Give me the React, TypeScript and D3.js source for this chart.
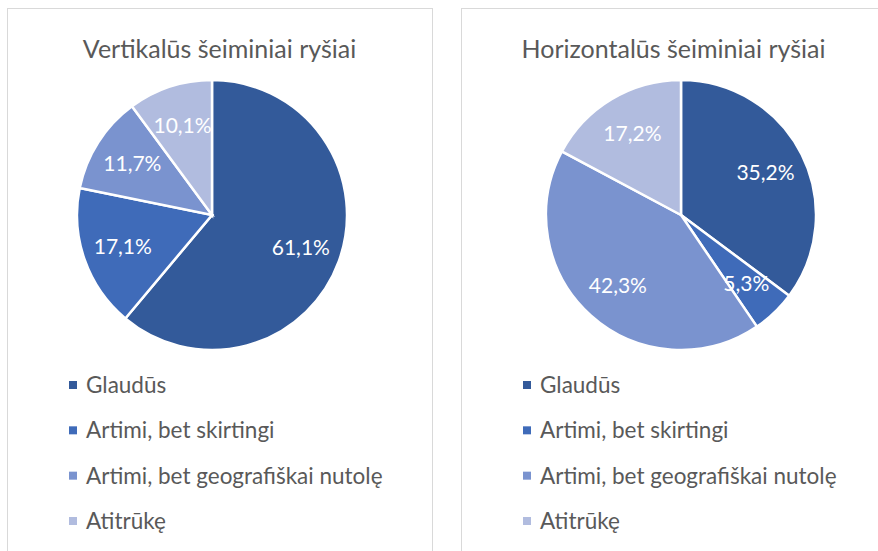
import React, { useEffect, useRef } from "react";
import * as d3 from "d3";

// categories shared by both pies
const categories = [
  "Glaudūs",
  "Artimi, bet skirtingi",
  "Artimi, bet geografiškai nutolę",
  "Atitrūkę",
];
const colors = ["#335a9a", "#3f6bb9", "#7a93cf", "#b1bcdf"];

const titles = ["Vertikalūs šeiminiai ryšiai", "Horizontalūs šeiminiai ryšiai"];
const verticalValues = [61.1, 17.1, 11.7, 10.1];
const horizontalValues = [35.2, 5.3, 42.3, 17.2];

const fmt = (v: number) => v.toFixed(1).replace(".", ",") + "%";

export default function App() {
  const svgRef = useRef<SVGSVGElement>(null);

  useEffect(() => {
    const svg = d3.select(svgRef.current);
    svg.selectAll("*").remove();

    const width = 878;
    const height = 551;
    svg.attr("width", width).attr("height", height);

    const font = "Lato, 'Open Sans', sans-serif";
    const panelW = 425;
    //panel frames and pie centres
    const panels = [
      { x: 7, cx: 205, title: titles[0], values: verticalValues },
      { x: 461, cx: 220, title: titles[1], values: horizontalValues },
    ];

    const radius = 135;
    const pie = d3.pie<number>().sort(null).value((d) => d);
    const arc = d3.arc<d3.PieArcDatum<number>>().innerRadius(0).outerRadius(radius);
    const labelArc = d3
      .arc<d3.PieArcDatum<number>>()
      .innerRadius(radius * 0.7)
      .outerRadius(radius * 0.7);

    // legend row positions
    const legendY = d3
      .scalePoint<string>()
      .domain(categories)
      .range([385, 521]);

    panels.forEach((p) => {
      const g = svg.append("g").attr("transform", `translate(${p.x},0)`);

      // chart frame
      g.append("rect")
        .attr("x", 0.5)
        .attr("y", 8.5)
        .attr("width", panelW)
        .attr("height", height + 20)
        .attr("fill", "#fff")
        .attr("stroke", "#d9d9d9")
        .attr("stroke-width", 1);

      g.append("text")
        .attr("x", panelW / 2)
        .attr("y", 58)
        .attr("text-anchor", "middle")
        .attr("font-family", font)
        .attr("font-size", 25)
        .attr("fill", "#595959")
        .text(p.title);

      const pieG = g.append("g").attr("transform", `translate(${p.cx},215)`);
      const arcs = pie(p.values);

      pieG
        .selectAll("path")
        .data(arcs)
        .join("path")
        .attr("d", arc)
        .attr("fill", (_, i) => colors[i])
        .attr("stroke", "#fff")
        .attr("stroke-width", 2.5);

      pieG
        .selectAll("text")
        .data(arcs)
        .join("text")
        .attr("transform", (d) => `translate(${labelArc.centroid(d)})`)
        .attr("text-anchor", "middle")
        .attr("dy", "0.35em")
        .attr("font-family", font)
        .attr("font-size", 21)
        .attr("fill", "#fff")
        .text((d) => fmt(d.data));

      // legend
      const leg = g
        .selectAll("g.leg")
        .data(categories)
        .join("g")
        .attr("class", "leg")
        .attr("transform", (d) => `translate(62,${legendY(d)})`);

      leg.append("rect")
        .attr("x", 0)
        .attr("y", -4)
        .attr("width", 8)
        .attr("height", 8)
        .attr("fill", (_, i) => colors[i]);

      leg.append("text")
        .attr("x", 17)
        .attr("dy", "0.35em")
        .attr("font-family", font)
        .attr("font-size", 22.5)
        .attr("fill", "#595959")
        .text((d) => d);
    });
  }, []);

  return (
    <div style={{ position: "fixed", left: 0, top: 0, background: "#fff" }}>
      <svg ref={svgRef} style={{ display: "block" }}></svg>
    </div>
  );
}
